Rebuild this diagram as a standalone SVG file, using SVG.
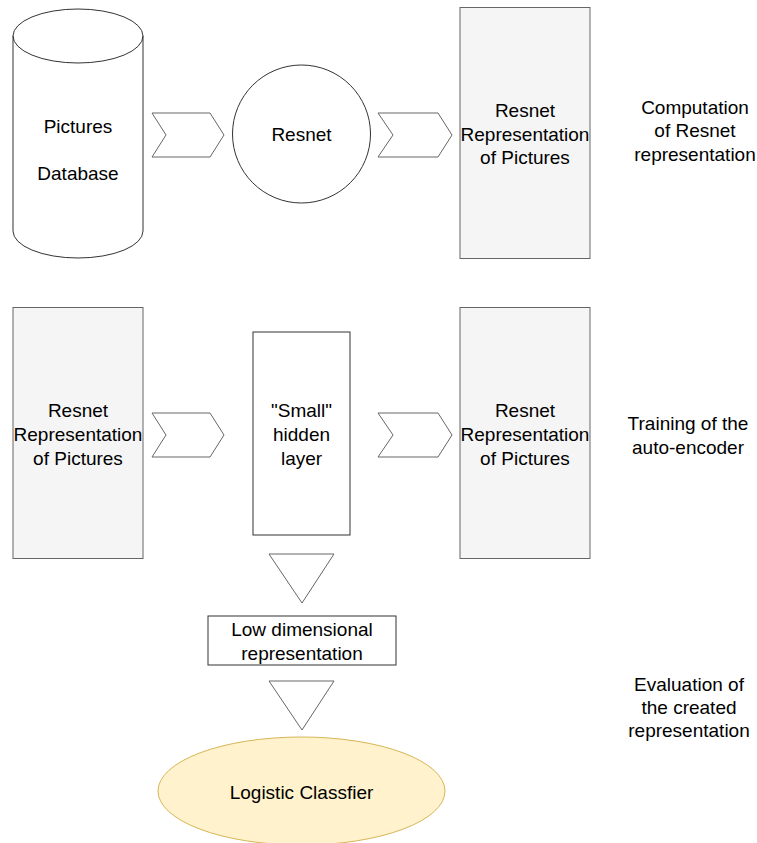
<svg xmlns="http://www.w3.org/2000/svg" width="757" height="843" viewBox="0 0 757 843">
<style>
text{font-family:"Liberation Sans",Arial,Helvetica,sans-serif;font-size:19px;fill:#000;text-anchor:middle}
.plain{fill:#fff;stroke:#333;stroke-width:1}
.gray{fill:#f5f5f5;stroke:#666;stroke-width:1}
.arr{fill:#fff;stroke:#666;stroke-width:1;stroke-linejoin:miter}
.cls{fill:#fff2cc;stroke:#d6b656;stroke-width:1}
</style>
<rect width="757" height="843" fill="#fff"/>
<g id="connectors">
<polygon class="arr" points="152,113 210,113 224,135 210,157 152,157 166,135"/>
<polygon class="arr" points="378,113 438,113 452,135 438,157 378,157 393,135"/>
<polygon class="arr" points="152,413 210,413 224,435 210,457 152,457 166,435"/>
<polygon class="arr" points="378,413 438,413 452,435 438,457 378,457 393,435"/>
<polygon class="arr" points="269,554 334,554 302,603"/>
<polygon class="arr" points="269,681 334,681 302,730"/>
</g>
<g id="db">
<path class="plain" d="M13,36 A65,27 0 0 1 143,36 L143,231 A65,27 0 0 1 13,231 Z"/>
<path fill="none" stroke="#333" d="M13,36 A65,27 0 0 0 143,36"/>
<text x="78" y="133">Pictures</text>
<text x="78" y="180">Database</text>
</g>
<g id="resnet">
<circle class="plain" cx="301.5" cy="134" r="69"/>
<text x="301.5" y="141">Resnet</text>
</g>
<g id="rep1">
<rect class="gray" x="460" y="7.5" width="130" height="251"/>
<text x="525" y="117">Resnet</text>
<text x="525" y="141">Representation</text>
<text x="525" y="164">of Pictures</text>
</g>
<g id="label1">
<text x="695" y="114">Computation</text>
<text x="695" y="137">of Resnet</text>
<text x="695" y="161">representation</text>
</g>
<g id="rep2">
<rect class="gray" x="13" y="307.5" width="130" height="251"/>
<text x="78" y="417">Resnet</text>
<text x="78" y="441">Representation</text>
<text x="78" y="465">of Pictures</text>
</g>
<g id="hidden">
<rect class="plain" x="253" y="332" width="97" height="203"/>
<text x="301.5" y="417">"Small"</text>
<text x="301.5" y="441">hidden</text>
<text x="301.5" y="465">layer</text>
</g>
<g id="rep3">
<rect class="gray" x="460" y="307.5" width="130" height="251"/>
<text x="525" y="417">Resnet</text>
<text x="525" y="441">Representation</text>
<text x="525" y="465">of Pictures</text>
</g>
<g id="label2">
<text x="688" y="430">Training of the</text>
<text x="688" y="454">auto-encoder</text>
</g>
<g id="lowdim">
<rect class="plain" x="208" y="616" width="188" height="49"/>
<text x="302" y="636">Low dimensional</text>
<text x="302" y="660">representation</text>
</g>
<g id="classifier">
<ellipse class="cls" cx="301.5" cy="791" rx="143.5" ry="54"/>
<text x="301.5" y="799">Logistic Classfier</text>
</g>
<g id="label3">
<text x="689" y="691">Evaluation of</text>
<text x="689" y="714">the created</text>
<text x="689" y="737">representation</text>
</g>
</svg>
